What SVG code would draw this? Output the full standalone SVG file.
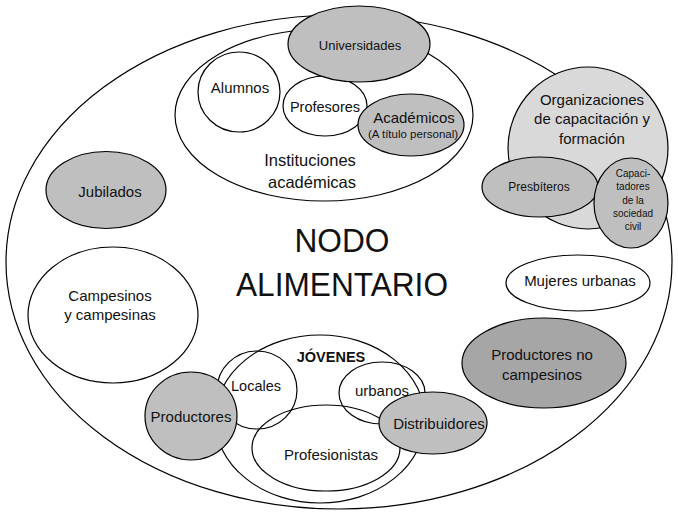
<svg xmlns="http://www.w3.org/2000/svg" width="678" height="512" viewBox="0 0 678 512">
<style>
ellipse{stroke:#000;stroke-width:1.2}
.w{fill:#fff}
.n{fill:none}
.g{fill:#bfbfbf}
.lg{fill:#d9d9d9}
.dg{fill:#a6a6a6}
text{font-family:"Liberation Sans",Arial,sans-serif;fill:#111;text-anchor:middle;dominant-baseline:central;font-size:15px}
.s13{font-size:13px}
.s12{font-size:12px}
.s10{font-size:10px}
.b{font-weight:bold}
.big{font-size:34px}
</style>
<rect width="678" height="512" fill="#fff"/>
<g id="nodo-alimentario">
<ellipse class="w" cx="339" cy="262" rx="333" ry="247"/>
<text class="big" x="342" y="240" textLength="95" lengthAdjust="spacingAndGlyphs">NODO</text>
<text class="big" x="342" y="284" textLength="212" lengthAdjust="spacingAndGlyphs">ALIMENTARIO</text>
</g>
<g id="instituciones">
<ellipse class="n" cx="324" cy="115" rx="149" ry="86"/>
<text x="310" y="160" style="font-size:16.5px">Instituciones</text>
<text x="312" y="182" style="font-size:16.5px">académicas</text>
</g>
<g id="alumnos">
<ellipse class="w" cx="239" cy="92" rx="41" ry="40"/>
<text x="240" y="87">Alumnos</text>
</g>
<g id="profesores">
<ellipse class="w" cx="325" cy="106" rx="42" ry="30"/>
<text x="325" y="107" style="font-size:14.5px">Profesores</text>
</g>
<g id="universidades">
<ellipse class="g" cx="359" cy="44" rx="71" ry="38"/>
<text class="s13" x="360" y="45">Universidades</text>
</g>
<g id="academicos">
<ellipse class="g" cx="411" cy="125" rx="53" ry="31"/>
<text x="414" y="117">Académicos</text>
<text x="413" y="134" style="font-size:11.5px">(A título personal)</text>
</g>
<g id="jubilados">
<ellipse class="g" cx="106" cy="190" rx="60" ry="38.5"/>
<text x="110" y="191">Jubilados</text>
</g>
<g id="campesinos">
<ellipse class="w" cx="113" cy="315" rx="85" ry="68"/>
<text x="110" y="295">Campesinos</text>
<text x="110" y="314">y campesinas</text>
</g>
<g id="organizaciones">
<ellipse class="lg" cx="588" cy="148" rx="80" ry="81"/>
<text x="592" y="99">Organizaciones</text>
<text x="592" y="118">de capacitación y</text>
<text x="592" y="138">formación</text>
</g>
<g id="presbiteros">
<ellipse class="g" cx="540" cy="187" rx="58" ry="30"/>
<text class="s12" x="539" y="187">Presbíteros</text>
</g>
<g id="capacitadores">
<ellipse class="g" cx="631" cy="203" rx="37" ry="45"/>
<text class="s10" x="633" y="173">Capaci-</text>
<text class="s10" x="633" y="186">tadores</text>
<text class="s10" x="633" y="200">de la</text>
<text class="s10" x="633" y="213">sociedad</text>
<text class="s10" x="633" y="226">civil</text>
</g>
<g id="mujeres-urbanas">
<ellipse class="w" cx="578" cy="283" rx="72" ry="28"/>
<text x="580" y="280">Mujeres urbanas</text>
</g>
<g id="productores-no-campesinos">
<ellipse class="dg" cx="544" cy="363" rx="82" ry="45"/>
<text x="542" y="354">Productores no</text>
<text x="542" y="374">campesinos</text>
</g>
<g id="jovenes">
<ellipse class="n" cx="320" cy="419" rx="105" ry="84"/>
<text class="b" x="331" y="357" style="font-size:14.5px">JÓVENES</text>
</g>
<g id="locales">
<ellipse class="n" cx="257" cy="390" rx="40" ry="39"/>
<text x="256" y="386" style="font-size:14.5px">Locales</text>
</g>
<g id="urbanos">
<ellipse class="n" cx="382" cy="393" rx="43" ry="31"/>
<text x="382" y="390">urbanos</text>
</g>
<g id="profesionistas">
<ellipse class="n" cx="326" cy="448" rx="74" ry="43"/>
<text x="331" y="454">Profesionistas</text>
</g>
<g id="productores">
<ellipse class="g" cx="191" cy="416" rx="46" ry="44"/>
<text x="191" y="416">Productores</text>
</g>
<g id="distribuidores">
<ellipse class="g" cx="433" cy="423" rx="54" ry="31"/>
<text x="439" y="423">Distribuidores</text>
</g>
<g id="connectors"/>
</svg>
